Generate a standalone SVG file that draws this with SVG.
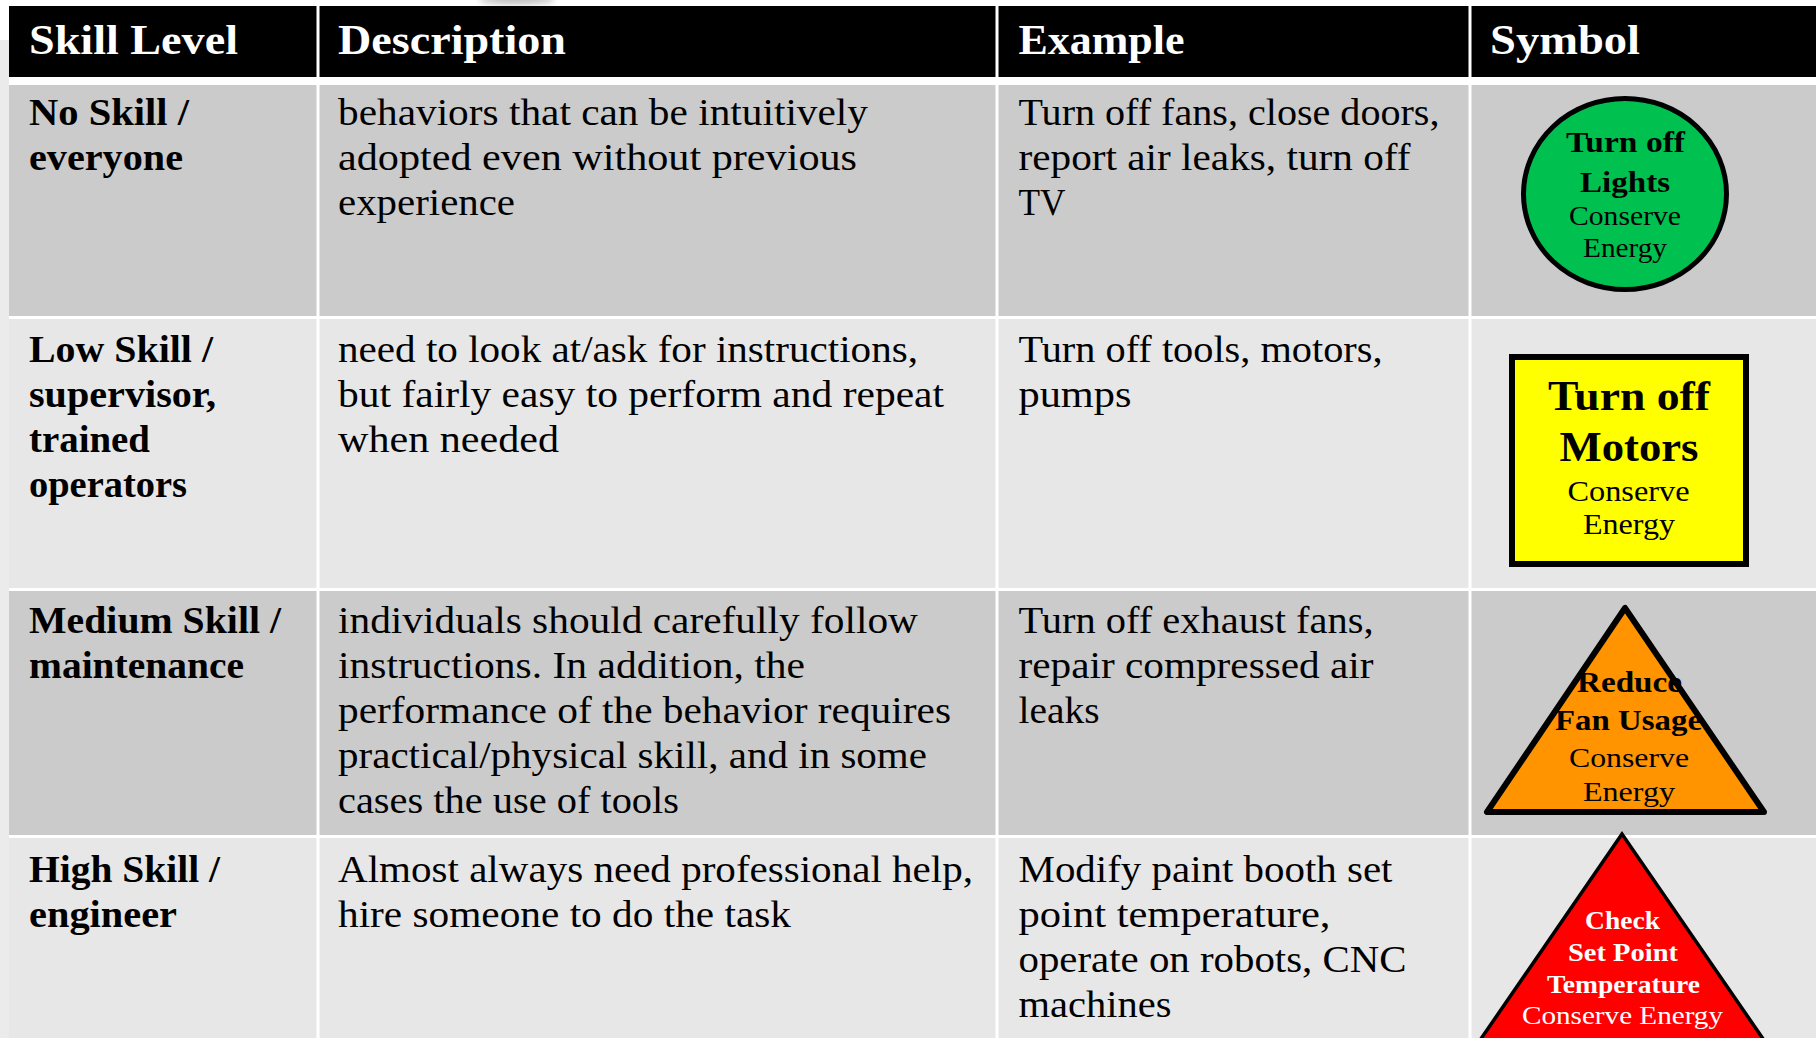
<svg xmlns="http://www.w3.org/2000/svg" width="1820" height="1038" viewBox="0 0 1820 1038">
  <defs>
    <style>
      .hd { font-family: "Liberation Serif", serif; font-weight: bold; font-size: 42px; fill: #ffffff; }
      .t { font-family: "Liberation Serif", serif; font-size: 37px; fill: #000000; }
      .tb { font-family: "Liberation Serif", serif; font-weight: bold; font-size: 37px; fill: #000000; }
      .sb { font-family: "Liberation Serif", serif; font-weight: bold; text-anchor: middle; }
      .sr { font-family: "Liberation Serif", serif; text-anchor: middle; }
      .grid { stroke: #ffffff; stroke-width: 3; }
      .odd { fill: #cbcbcb; }
      .even { fill: #e7e7e7; }
    </style>
    <filter id="blur" x="-50%" y="-200%" width="200%" height="500%">
      <feGaussianBlur stdDeviation="3"/>
    </filter>
  </defs>

  <rect x="0" y="0" width="1820" height="1038" fill="#ffffff"/>
  <rect x="0" y="40" width="9" height="998" fill="#ebebeb"/>
  <ellipse cx="517" cy="0" rx="38" ry="4" fill="#b8b8b8" filter="url(#blur)"/>

  <!-- header row -->
  <g id="header">
    <rect x="9" y="6" width="1807" height="71" fill="#000000"/>
    <text class="hd" x="29" y="54" textLength="209" lengthAdjust="spacingAndGlyphs">Skill Level</text>
    <text class="hd" x="338" y="54" textLength="228" lengthAdjust="spacingAndGlyphs">Description</text>
    <text class="hd" x="1018.5" y="54" textLength="166" lengthAdjust="spacingAndGlyphs">Example</text>
    <text class="hd" x="1490" y="54" textLength="150" lengthAdjust="spacingAndGlyphs">Symbol</text>
  </g>

  <!-- row backgrounds -->
  <g id="rows">
    <rect class="odd" x="9" y="85" width="1807" height="231"/>
    <rect class="even" x="9" y="319" width="1807" height="269"/>
    <rect class="odd" x="9" y="591" width="1807" height="244"/>
    <rect class="even" x="9" y="838" width="1807" height="200"/>
  </g>

  <!-- grid lines -->
  <g id="gridlines">
    <line class="grid" x1="318" y1="6" x2="318" y2="1038"/>
    <line class="grid" x1="997" y1="6" x2="997" y2="1038"/>
    <line class="grid" x1="1470" y1="6" x2="1470" y2="1038"/>
  </g>

  <!-- row 1 -->
  <g id="row-no-skill">
    <text class="tb" x="29" y="125" textLength="160" lengthAdjust="spacingAndGlyphs">No Skill /</text>
    <text class="tb" x="29" y="170" textLength="154" lengthAdjust="spacingAndGlyphs">everyone</text>
    <text class="t" x="338" y="125" textLength="530" lengthAdjust="spacingAndGlyphs">behaviors that can be intuitively</text>
    <text class="t" x="338" y="170" textLength="519" lengthAdjust="spacingAndGlyphs">adopted even without previous</text>
    <text class="t" x="338" y="215" textLength="177" lengthAdjust="spacingAndGlyphs">experience</text>
    <text class="t" x="1018.5" y="125" textLength="421" lengthAdjust="spacingAndGlyphs">Turn off fans, close doors,</text>
    <text class="t" x="1018.5" y="170" textLength="392" lengthAdjust="spacingAndGlyphs">report air leaks, turn off</text>
    <text class="t" x="1018.5" y="215" textLength="47" lengthAdjust="spacingAndGlyphs">TV</text>
  </g>

  <!-- row 2 -->
  <g id="row-low-skill">
    <text class="tb" x="29" y="362" textLength="184" lengthAdjust="spacingAndGlyphs">Low Skill /</text>
    <text class="tb" x="29" y="407" textLength="187" lengthAdjust="spacingAndGlyphs">supervisor,</text>
    <text class="tb" x="29" y="452" textLength="121" lengthAdjust="spacingAndGlyphs">trained</text>
    <text class="tb" x="29" y="497" textLength="158" lengthAdjust="spacingAndGlyphs">operators</text>
    <text class="t" x="338" y="362" textLength="580" lengthAdjust="spacingAndGlyphs">need to look at/ask for instructions,</text>
    <text class="t" x="338" y="407" textLength="606" lengthAdjust="spacingAndGlyphs">but fairly easy to perform and repeat</text>
    <text class="t" x="338" y="452" textLength="221" lengthAdjust="spacingAndGlyphs">when needed</text>
    <text class="t" x="1018.5" y="362" textLength="364" lengthAdjust="spacingAndGlyphs">Turn off tools, motors,</text>
    <text class="t" x="1018.5" y="407" textLength="113" lengthAdjust="spacingAndGlyphs">pumps</text>
  </g>

  <!-- row 3 -->
  <g id="row-medium-skill">
    <text class="tb" x="29" y="633" textLength="252" lengthAdjust="spacingAndGlyphs">Medium Skill /</text>
    <text class="tb" x="29" y="678" textLength="215" lengthAdjust="spacingAndGlyphs">maintenance</text>
    <text class="t" x="338" y="633" textLength="580" lengthAdjust="spacingAndGlyphs">individuals should carefully follow</text>
    <text class="t" x="338" y="678" textLength="467" lengthAdjust="spacingAndGlyphs">instructions. In addition, the</text>
    <text class="t" x="338" y="723" textLength="613" lengthAdjust="spacingAndGlyphs">performance of the behavior requires</text>
    <text class="t" x="338" y="768" textLength="589" lengthAdjust="spacingAndGlyphs">practical/physical skill, and in some</text>
    <text class="t" x="338" y="813" textLength="341" lengthAdjust="spacingAndGlyphs">cases the use of tools</text>
    <text class="t" x="1018.5" y="633" textLength="355" lengthAdjust="spacingAndGlyphs">Turn off exhaust fans,</text>
    <text class="t" x="1018.5" y="678" textLength="355" lengthAdjust="spacingAndGlyphs">repair compressed air</text>
    <text class="t" x="1018.5" y="723" textLength="81" lengthAdjust="spacingAndGlyphs">leaks</text>
  </g>

  <!-- row 4 -->
  <g id="row-high-skill">
    <text class="tb" x="29" y="882" textLength="191" lengthAdjust="spacingAndGlyphs">High Skill /</text>
    <text class="tb" x="29" y="927" textLength="148" lengthAdjust="spacingAndGlyphs">engineer</text>
    <text class="t" x="338" y="882" textLength="635" lengthAdjust="spacingAndGlyphs">Almost always need professional help,</text>
    <text class="t" x="338" y="927" textLength="453" lengthAdjust="spacingAndGlyphs">hire someone to do the task</text>
    <text class="t" x="1018.5" y="882" textLength="374" lengthAdjust="spacingAndGlyphs">Modify paint booth set</text>
    <text class="t" x="1018.5" y="927" textLength="312" lengthAdjust="spacingAndGlyphs">point temperature,</text>
    <text class="t" x="1018.5" y="972" textLength="388" lengthAdjust="spacingAndGlyphs">operate on robots, CNC</text>
    <text class="t" x="1018.5" y="1017" textLength="153" lengthAdjust="spacingAndGlyphs">machines</text>
  </g>

  <!-- symbols -->
  <g id="symbol-green-circle">
    <ellipse cx="1625" cy="194" rx="101.5" ry="95.5" fill="#00c050" stroke="#000000" stroke-width="5"/>
    <text class="sb" x="1625.5" y="152" font-size="30" textLength="119" lengthAdjust="spacingAndGlyphs">Turn off</text>
    <text class="sb" x="1625" y="192" font-size="30" textLength="90" lengthAdjust="spacingAndGlyphs">Lights</text>
    <text class="sr" x="1625" y="225" font-size="27" textLength="112" lengthAdjust="spacingAndGlyphs">Conserve</text>
    <text class="sr" x="1625" y="257" font-size="27" textLength="84" lengthAdjust="spacingAndGlyphs">Energy</text>
  </g>

  <g id="symbol-yellow-square">
    <rect x="1512" y="357" width="234" height="207" fill="#ffff00" stroke="#000000" stroke-width="6"/>
    <text class="sb" x="1629" y="410" font-size="42" textLength="162" lengthAdjust="spacingAndGlyphs">Turn off</text>
    <text class="sb" x="1629" y="461" font-size="42" textLength="139" lengthAdjust="spacingAndGlyphs">Motors</text>
    <text class="sr" x="1628.5" y="501" font-size="30" textLength="122" lengthAdjust="spacingAndGlyphs">Conserve</text>
    <text class="sr" x="1629" y="534" font-size="30" textLength="92" lengthAdjust="spacingAndGlyphs">Energy</text>
  </g>

  <g id="symbol-orange-triangle">
    <polygon points="1625,608 1487,812 1764,812" fill="#ff9300" stroke="#000000" stroke-width="6" stroke-linejoin="round"/>
    <text class="sb" x="1629.5" y="692" font-size="30" textLength="105" lengthAdjust="spacingAndGlyphs">Reduce</text>
    <text class="sb" x="1628.5" y="730" font-size="30" textLength="147" lengthAdjust="spacingAndGlyphs">Fan Usage</text>
    <text class="sr" x="1629" y="767" font-size="28" textLength="120" lengthAdjust="spacingAndGlyphs">Conserve</text>
    <text class="sr" x="1629" y="801" font-size="28" textLength="92" lengthAdjust="spacingAndGlyphs">Energy</text>
  </g>

  <g id="symbol-red-triangle">
    <polygon points="1622,834 1476,1046 1768,1046" fill="#ff0000" stroke="#000000" stroke-width="3.5" stroke-linejoin="miter"/>
    <text class="sb" x="1622.5" y="929" font-size="26" fill="#ffffff" textLength="75" lengthAdjust="spacingAndGlyphs">Check</text>
    <text class="sb" x="1623" y="961" font-size="26" fill="#ffffff" textLength="110" lengthAdjust="spacingAndGlyphs">Set Point</text>
    <text class="sb" x="1623.5" y="993" font-size="26" fill="#ffffff" textLength="153" lengthAdjust="spacingAndGlyphs">Temperature</text>
    <text class="sr" x="1622.5" y="1024" font-size="26" fill="#ffffff" textLength="201" lengthAdjust="spacingAndGlyphs">Conserve Energy</text>
  </g>
</svg>
